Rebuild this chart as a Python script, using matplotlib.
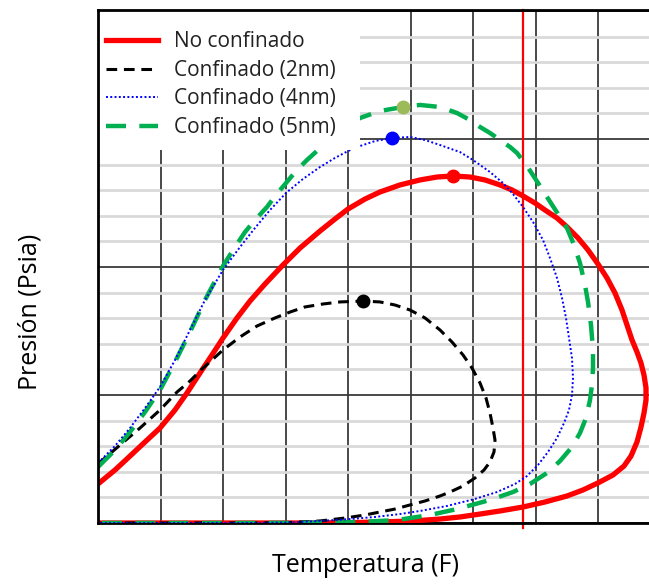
import matplotlib
matplotlib.use("Agg")
import matplotlib.pyplot as plt
from matplotlib.ticker import MultipleLocator
from matplotlib.patches import Rectangle

plt.rcParams['font.family'] = ['Open Sans', 'DejaVu Sans']

# Data in grid units (no tick labels on the original): T horizontal, P vertical
red_T = [0.0, 0.272, 0.512, 0.752, 0.992, 1.232, 1.424, 1.632, 1.824, 2.0, 2.224, 2.432, 2.672, 2.96,
         3.232, 3.552, 3.792, 4.0, 4.272, 4.512, 4.832, 5.152, 5.424, 5.68, 5.952, 6.192, 6.432,
         6.624, 6.8, 6.992, 7.152, 7.344, 7.504, 7.68, 7.84, 8.0, 8.144, 8.272, 8.384, 8.464, 8.544,
         8.624, 8.688, 8.736, 8.768, 8.768, 8.736, 8.688, 8.624, 8.528, 8.416, 8.24, 8.0, 7.76,
         7.504, 7.152, 6.8, 6.432, 6.112, 5.792, 5.472, 5.04, 4.512, 4.032, 3.232, 0.0]
red_P = [0.305, 0.414, 0.523, 0.633, 0.742, 0.883, 1.016, 1.172, 1.313, 1.445, 1.602, 1.734, 1.867,
         2.016, 2.148, 2.281, 2.375, 2.453, 2.531, 2.586, 2.641, 2.680, 2.703, 2.711, 2.703, 2.680,
         2.641, 2.602, 2.555, 2.5, 2.445, 2.383, 2.313, 2.227, 2.133, 2.023, 1.914, 1.797, 1.664,
         1.547, 1.430, 1.336, 1.25, 1.156, 1.055, 0.961, 0.859, 0.75, 0.633, 0.523, 0.445, 0.375,
         0.313, 0.258, 0.211, 0.164, 0.125, 0.094, 0.070, 0.047, 0.031, 0.016, 0.008, 0.003, 0.0, 0.0]

blk_T = [0.0, 0.352, 0.672, 0.992, 1.264, 1.472, 1.632, 2.0, 2.272, 2.544, 2.832, 3.072, 3.312, 3.6,
         3.872, 4.24, 4.512, 4.752, 4.992, 5.232, 5.472, 5.664, 5.84, 5.984, 6.112, 6.208, 6.272,
         6.32, 6.352, 6.336, 6.272, 6.176, 6.032, 5.84, 5.632, 5.472, 5.232, 4.992, 4.752, 4.512,
         4.272, 3.952, 3.552, 3.072, 2.592, 0.0]
blk_P = [0.461, 0.609, 0.742, 0.883, 1.023, 1.109, 1.188, 1.352, 1.453, 1.539, 1.602, 1.648, 1.688,
         1.711, 1.727, 1.734, 1.727, 1.703, 1.664, 1.602, 1.508, 1.414, 1.313, 1.211, 1.094, 0.977,
         0.859, 0.742, 0.648, 0.555, 0.477, 0.414, 0.352, 0.289, 0.242, 0.211, 0.172, 0.141, 0.109,
         0.086, 0.0625, 0.039, 0.016, 0.004, 0.0, 0.0]

blu_T = [0.0, 0.272, 0.512, 0.752, 0.992, 1.232, 1.472, 1.712, 2.0, 2.272, 2.512, 2.752, 3.008, 3.28,
         3.552, 3.792, 4.0, 4.192, 4.432, 4.704, 4.992, 5.232, 5.472, 5.792, 6.0, 6.272, 6.48, 6.64,
         6.8, 6.96, 7.12, 7.232, 7.344, 7.424, 7.488, 7.536, 7.584, 7.6, 7.584, 7.536, 7.456, 7.344,
         7.2, 7.04, 6.864, 6.672, 6.384, 6.032, 5.584, 5.152, 4.832, 4.432, 4.032, 3.552, 3.072,
         2.432, 0.0]
blu_P = [0.469, 0.602, 0.742, 0.898, 1.063, 1.273, 1.508, 1.742, 1.977, 2.156, 2.305, 2.445, 2.578,
         2.688, 2.781, 2.852, 2.906, 2.945, 2.984, 3.008, 3.016, 2.992, 2.953, 2.898, 2.836, 2.742,
         2.656, 2.570, 2.469, 2.352, 2.211, 2.070, 1.914, 1.758, 1.602, 1.445, 1.289, 1.133, 1.0,
         0.883, 0.781, 0.664, 0.555, 0.453, 0.367, 0.305, 0.242, 0.188, 0.133, 0.094, 0.070, 0.047,
         0.031, 0.016, 0.004, 0.0, 0.0]

grn_T = [0.0, 0.272, 0.512, 0.752, 0.992, 1.232, 1.472, 1.712, 2.0, 2.192, 2.352, 2.512, 2.704, 2.848,
         3.008, 3.168, 3.344, 3.52, 3.712, 3.952, 4.192, 4.512, 4.88, 5.152, 5.472, 5.744, 5.952,
         6.112, 6.272, 6.432, 6.592, 6.704, 6.864, 7.072, 7.216, 7.36, 7.504, 7.616, 7.712, 7.792,
         7.84, 7.888, 7.92, 7.92, 7.904, 7.872, 7.808, 7.712, 7.584, 7.392, 7.184, 6.912, 6.64,
         6.272, 5.744, 5.312, 4.784, 4.192, 3.712, 2.432, 0.0]
grn_P = [0.4375, 0.570, 0.711, 0.867, 1.039, 1.258, 1.492, 1.742, 2.008, 2.156, 2.273, 2.367, 2.469,
         2.563, 2.656, 2.75, 2.836, 2.914, 2.992, 3.086, 3.164, 3.219, 3.25, 3.266, 3.25, 3.203,
         3.148, 3.094, 3.047, 2.992, 2.938, 2.891, 2.789, 2.633, 2.523, 2.414, 2.305, 2.172, 2.031,
         1.859, 1.727, 1.547, 1.352, 1.211, 1.078, 0.961, 0.820, 0.703, 0.594, 0.484, 0.391, 0.305,
         0.242, 0.180, 0.109, 0.0625, 0.023, 0.008, 0.003, 0.0, 0.0]

crit_red = (5.68, 2.711)
crit_blk = (4.24, 1.734)
crit_blu = (4.704, 3.008)
crit_grn = (4.88, 3.25)

T_reservoir = 6.8

labels = ["No confinado", "Confinado (2nm)", "Confinado (4nm)", "Confinado (5nm)"]

fig = plt.figure(figsize=(6.49, 5.84), dpi=100)
ax = fig.add_axes([98/649, 1-523/584, 1-98/649, 513/584])
ax.set_xlim(0, 551/62.5)
ax.set_ylim(0, 513/128.0)

# grid
ax.xaxis.set_major_locator(MultipleLocator(1))
ax.yaxis.set_major_locator(MultipleLocator(1))
ax.yaxis.set_minor_locator(MultipleLocator(0.2))
ax.grid(True, which='minor', axis='y', color='#d9d9d9', lw=2.0, zorder=0)
ax.grid(True, which='major', axis='both', color='#3a3a3a', lw=1.3, zorder=0.5)
ax.set_axisbelow(True)
ax.tick_params(which='both', length=0, labelbottom=False, labelleft=False)
for s in ['left', 'top', 'bottom']:
    ax.spines[s].set_linewidth(2.0)
    ax.spines[s].set_color('black')
ax.spines['left'].set_zorder(11)
ax.spines['top'].set_zorder(11)
ax.spines['right'].set_visible(False)

ax.axvline(T_reservoir, color='#ff0000', lw=1.6, zorder=2, ymin=-0.01, clip_on=False)

l1, = ax.plot(red_T, red_P, color='#ff0000', lw=3.8, zorder=3, solid_joinstyle='round')
l2, = ax.plot(blk_T, blk_P, color='black', lw=2.2, ls=(0, (3.5, 2.2)), zorder=4)
l3, = ax.plot(blu_T, blu_P, color='#0000ff', lw=1.4, ls=(0, (1, 1.2)), zorder=5)
l4, = ax.plot(grn_T, grn_P, color='#00b050', lw=3.2, ls=(0, (4.5, 3)), zorder=4)

ax.plot(*crit_red, 'o', color='#ff0000', ms=9, zorder=6)
ax.plot(*crit_blk, 'o', color='black', ms=9, zorder=6)
ax.plot(*crit_blu, 'o', color='#0000ff', ms=9, zorder=6)
ax.plot(*crit_grn, 'o', color='#9bbb59', ms=9, zorder=6)

# white legend panel
ax.add_patch(Rectangle((0, 1 - 140/513), 262/551, 140/513, transform=ax.transAxes,
                       facecolor='white', edgecolor='none', zorder=9))

leg = ax.legend([l1, l2, l3, l4], labels, loc='upper left', bbox_to_anchor=(0.0, 1 - 13/513),
                borderaxespad=0.0, frameon=False, fontsize=15, handlelength=2.5,
                handletextpad=0.75, labelspacing=0.36, borderpad=0.4)
leg.set_zorder(10)
for t in leg.get_texts():
    t.set_color('#222222')

fig.text(365/649, 1-566/584, "Temperatura (F)", ha='center', va='center', fontsize=18)
fig.text(30/649, 1-312/584, "Presión (Psia)", ha='center', va='center', rotation=90, fontsize=18)

fig.savefig("out.png", dpi=100)
